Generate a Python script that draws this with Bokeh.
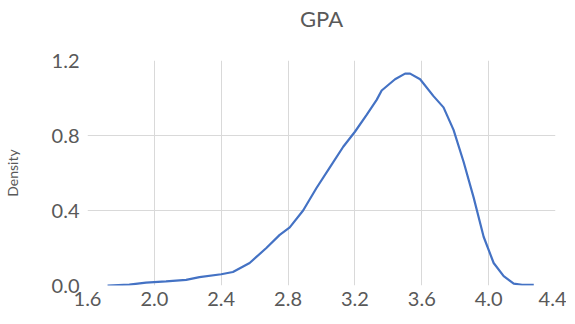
from bokeh.plotting import figure
from bokeh.models import Range1d, FixedTicker, PrintfTickFormatter, Title
from bokeh.embed import file_html
from bokeh.resources import INLINE

# GPA kernel-density estimate
gpa = [1.72, 1.85, 1.95, 2.07, 2.19, 2.27, 2.40, 2.47, 2.57, 2.67, 2.75, 2.81,
       2.89, 2.97, 3.05, 3.13, 3.20, 3.27, 3.33, 3.36, 3.44, 3.50, 3.53, 3.59,
       3.67, 3.73, 3.79, 3.85, 3.91, 3.97, 4.03, 4.09, 4.15, 4.20, 4.27]
density = [0.000, 0.005, 0.015, 0.022, 0.030, 0.045, 0.060, 0.072, 0.120, 0.200,
           0.270, 0.310, 0.400, 0.520, 0.630, 0.740, 0.820, 0.910, 0.990, 1.040,
           1.100, 1.130, 1.130, 1.100, 1.010, 0.950, 0.830, 0.660, 0.470, 0.260,
           0.120, 0.050, 0.010, 0.004, 0.004]

x_ticks = [1.6, 2.0, 2.4, 2.8, 3.2, 3.6, 4.0, 4.4]
y_ticks = [0.0, 0.4, 0.8, 1.2]
x_grid = [2.0, 2.4, 2.8, 3.2, 3.6, 4.0]
y_grid = [0.4, 0.8]

FONT = "Lato"
TXT = "#595959"

p = figure(frame_width=468, height=308, output_backend="svg", toolbar_location=None,
           x_range=Range1d(1.6, 4.4), y_range=Range1d(0, 1.2),
           title="GPA", min_border_left=0, min_border_right=11,
           min_border_top=0, min_border_bottom=0)

p.title.align = "center"
p.title.text_font = FONT
p.title.text_font_size = "22px"
p.title.text_font_style = "normal"
p.title.text_color = TXT
p.title.standoff = 4

spacer = Title(text=" ", text_font_size="22px", standoff=0)
p.add_layout(spacer, "above")

p.outline_line_color = None
p.background_fill_color = "white"
p.border_fill_color = "white"

for ax in (p.xaxis[0], p.yaxis[0]):
    ax.axis_line_color = None
    ax.major_tick_line_color = None
    ax.minor_tick_line_color = None
    ax.major_tick_out = 0
    ax.major_tick_in = 0
    ax.minor_tick_out = 0
    ax.minor_tick_in = 0
    ax.major_label_text_font = FONT
    ax.major_label_text_font_size = "20px"
    ax.major_label_text_color = TXT
    ax.formatter = PrintfTickFormatter(format="%.1f")

p.xaxis.ticker = FixedTicker(ticks=x_ticks)
p.yaxis.ticker = FixedTicker(ticks=y_ticks)
p.xaxis.major_label_standoff = 6
p.yaxis.major_label_standoff = 8

p.yaxis.axis_label = "Density"
p.yaxis.axis_label_text_font = FONT
p.yaxis.axis_label_text_font_size = "14px"
p.yaxis.axis_label_text_font_style = "normal"
p.yaxis.axis_label_text_color = TXT
p.yaxis.axis_label_standoff = 28

p.xgrid.ticker = FixedTicker(ticks=x_grid)
p.ygrid.ticker = FixedTicker(ticks=y_grid)
p.xgrid.grid_line_color = "#D9D9D9"
p.ygrid.grid_line_color = "#D9D9D9"

p.line(gpa, density, line_color="#4472C4", line_width=2.2)

open("out.html", "w").write(file_html(p, INLINE))
